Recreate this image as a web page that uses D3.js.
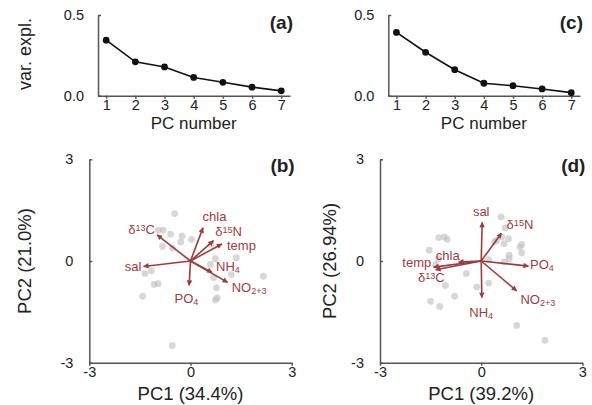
<!DOCTYPE html>
<html>
    <head>
        <meta charset="UTF-8">
        <script src="https://cdn.jsdelivr.net/npm/d3@7"></script>
        <style>
            body { margin: 0; background: #fff; }
            text { font-family: "Liberation Sans", Arial, sans-serif; fill: #222; }
            .axis path, .axis line { stroke: #555; stroke-width: 1.5; }
            .axis text { font-family: "Liberation Sans", Arial, sans-serif; fill: #222; }
        </style>
    </head>
    <body>
        <script>
var W = 592, H = 405;

// scree data
var pcNum = [1, 2, 3, 4, 5, 6, 7];
var varExplA = [0.344, 0.210, 0.178, 0.113, 0.083, 0.053, 0.030];
var varExplC = [0.392, 0.269, 0.161, 0.077, 0.062, 0.042, 0.019];
var screeTicks = [0, 0.5];

// biplot data
var biTicks = [-3, 0, 3];
var varNames = ["chla", "δ^15N", "temp", "sal", "δ^13C", "NH_4", "NO_2+3", "PO_4"];

var loadBx = [0.37, 0.68, 0.93, -1.39, -0.99, 0.64, 1.10, -0.04];
var loadBy = [0.98, 0.60, 0.50, -0.16, 0.77, -0.34, -0.63, -0.72];
var labBx = [0.71, 1.13, 1.51, -1.70, -1.45, 1.11, 1.74, -0.12];
var labBy = [1.18, 0.74, 0.31, -0.30, 0.81, -0.30, -0.91, -1.23];
var scoreBx = [-0.47, -0.96, -0.81, -0.59, -0.25, 0.03, -0.29, -0.83, -0.54, 0.61, 0.74, 1.36, 0.59,
               -1.35, -1.16, -1.08, -0.96, 0.69, 1.21, 2.16, 0.77, 0.79, 0.74, -1.42, -0.54];
var scoreBy = [1.40, 0.91, 0.91, 0.79, 0.74, 0.64, 0.56, 0.43, 0.38, 0.49, 0.07, 0.09, -0.10,
               -0.37, -0.29, -0.69, -0.67, -0.49, -0.40, -0.45, -0.79, -1.09, -1.15, -1.04, -2.49];

var loadDx = [-0.67, 0.60, -1.41, 0.03, -1.35, 0.02, 1.05, 1.40];
var loadDy = [-0.03, 0.82, -0.18, 1.14, -0.26, -1.08, -0.88, -0.15];
var labDx = [-0.99, 1.15, -1.91, 0.00, -1.48, 0.00, 1.68, 1.80];
var labDy = [0.02, 0.94, -0.18, 1.33, -0.62, -1.66, -1.28, -0.24];
var scoreDx = [0.59, 0.71, 0.61, 0.81, 0.46, 0.68, 1.15, 1.20, 1.20, 0.83, 0.83, -1.26, -1.09, -1.01,
               -1.54, -1.26, 0.22, -0.44, -1.06, -0.13, 0.22, -0.79, -1.50, -1.23, 1.05, 1.89, 0.39, 0.69, -1.35];
var scoreDy = [1.30, 0.98, 0.71, 0.66, 0.61, 0.51, 0.41, 0.49, 0.24, 0.17, 0.07, 0.69, 0.71, 0.64,
               0.32, 0.07, 0.04, -0.37, -0.72, -0.77, -0.65, -1.04, -1.19, -1.34, -1.90, -2.34, 0.56, -0.03, -0.10];

var arrowColor = "#9c3c3e";

var svg = d3.select("body")
            .append("svg")
            .attr("width", W)
            .attr("height", H);

svg.append("defs").append("marker")
    .attr("id", "head")
    .attr("viewBox", "0 0 10 10")
    .attr("refX", 9)
    .attr("refY", 5)
    .attr("markerUnits", "userSpaceOnUse")
    .attr("markerWidth", 8)
    .attr("markerHeight", 5.5)
    .attr("orient", "auto")
    .append("path")
    .attr("d", "M0,0L10,5L0,10z")
    .attr("fill", arrowColor);

// plain hyphen minus like the original
var intFmt = function(d){ return String(d); };

// text with ^sup and _sub parts
function richText(sel, s){
    var parts = s.split(/(\^[0-9]+|_[0-9+]+)/);
    parts.forEach(function(p){
        if(!p) return;
        if(p[0] == "^"){
            sel.append("tspan").attr("baseline-shift", "35%").attr("font-size", "70%").text(p.slice(1));
        }else if(p[0] == "_"){
            sel.append("tspan").attr("baseline-shift", "-25%").attr("font-size", "70%").text(p.slice(1));
        }else{
            sel.append("tspan").text(p);
        }
    });
}

function tag(x, y, s){
    svg.append("text")
        .attr("x", x).attr("y", y)
        .attr("text-anchor", "end")
        .attr("font-size", 19)
        .attr("font-weight", "bold")
        .attr("fill", "#111")
        .text(s);
}

function scree(x0, x1, vals, label, showTitle){
    var x = d3.scaleLinear().domain([0.72, 7.3]).range([x0, x1]);
    var y = d3.scaleLinear().domain([0, 0.5]).range([95.7, 15]);

    svg.append("g").attr("class", "axis")
        .attr("transform", "translate(0," + y(0) + ")")
        .call(d3.axisBottom(x).tickValues(pcNum).tickFormat(intFmt).tickSize(3).tickSizeOuter(0).tickPadding(1.5))
        .selectAll("text").attr("font-size", 14.5);

    svg.append("g").attr("class", "axis")
        .attr("transform", "translate(" + x0 + ",0)")
        .call(d3.axisLeft(y).tickValues(screeTicks).tickFormat(d3.format(".1f")).tickSize(-3).tickSizeOuter(0).tickPadding(14))
        .selectAll("text").attr("font-size", 14.5);

    var line = d3.line().x(function(d, i){ return x(pcNum[i]); }).y(function(d){ return y(d); });
    svg.append("path")
        .datum(vals)
        .attr("d", line)
        .attr("fill", "none")
        .attr("stroke", "#111")
        .attr("stroke-width", 1.6);

    svg.selectAll(null)
        .data(vals)
        .enter()
        .append("circle")
        .attr("cx", function(d, i){ return x(pcNum[i]); })
        .attr("cy", function(d){ return y(d); })
        .attr("r", 3.4)
        .attr("fill", "#111");

    svg.append("text")
        .attr("x", (x(1) + x(7)) / 2)
        .attr("y", 128.5)
        .attr("text-anchor", "middle")
        .attr("font-size", 17)
        .text("PC number");

    if(showTitle){
        svg.append("text")
            .attr("transform", "translate(31,54) rotate(-90)")
            .attr("text-anchor", "middle")
            .attr("font-size", 18)
            .text("var. expl.");
    }
    tag(x1 + 3, 29, label);
}

function biplot(x0, sx, sy, lx, ly, ax, ay, xTitle, yTitle, yTitleX, label){
    var x = d3.scaleLinear().domain([-3, 3]).range([x0, x0 + 202.4]);
    var y = d3.scaleLinear().domain([-3, 3]).range([362.7, 159.3]);

    svg.append("g").attr("class", "axis")
        .attr("transform", "translate(0," + y(-3) + ")")
        .call(d3.axisBottom(x).tickValues(biTicks).tickFormat(intFmt).tickSize(3).tickSizeOuter(0).tickPadding(1.5))
        .selectAll("text").attr("font-size", 14.5);

    svg.append("g").attr("class", "axis")
        .attr("transform", "translate(" + x(-3) + ",0)")
        .call(d3.axisLeft(y).tickValues(biTicks).tickFormat(intFmt).tickSize(-3).tickSizeOuter(0).tickPadding(16))
        .selectAll("text").attr("font-size", 14.5);

    svg.selectAll(null)
        .data(sx)
        .enter()
        .append("circle")
        .attr("cx", function(d){ return x(d); })
        .attr("cy", function(d, i){ return y(sy[i]); })
        .attr("r", 3.4)
        .attr("fill", "#bdbdbd")
        .attr("fill-opacity", 0.6);

    svg.selectAll(null)
        .data(ax)
        .enter()
        .append("line")
        .attr("x1", x(0)).attr("y1", y(0))
        .attr("x2", function(d){ return x(d); })
        .attr("y2", function(d, i){ return y(ay[i]); })
        .attr("stroke", arrowColor)
        .attr("stroke-width", 1.6)
        .attr("marker-end", "url(#head)");

    varNames.forEach(function(n, i){
        var t = svg.append("text")
            .attr("x", x(lx[i]))
            .attr("y", y(ly[i]))
            .attr("text-anchor", "middle")
            .attr("font-size", 13)
            .style("fill", arrowColor);
        richText(t, n);
    });

    svg.append("text")
        .attr("x", x(0))
        .attr("y", 400)
        .attr("text-anchor", "middle")
        .attr("font-size", 18.5)
        .text(xTitle);

    svg.append("text")
        .attr("transform", "translate(" + yTitleX + "," + y(0) + ") rotate(-90)")
        .attr("text-anchor", "middle")
        .attr("font-size", 18.5)
        .text(yTitle);

    tag(x(3) + 3, 172, label);
}

scree(98, 290, varExplA, "(a)", true);
scree(388.3, 580, varExplC, "(c)", false);
biplot(89.3, scoreBx, scoreBy, labBx, labBy, loadBx, loadBy, "PC1 (34.4%)", "PC2 (21.0%)", 31, "(b)");
biplot(380, scoreDx, scoreDy, labDx, labDy, loadDx, loadDy, "PC1 (39.2%)", "PC2 (26.94%)", 336, "(d)");
        </script>
    </body>
</html>
